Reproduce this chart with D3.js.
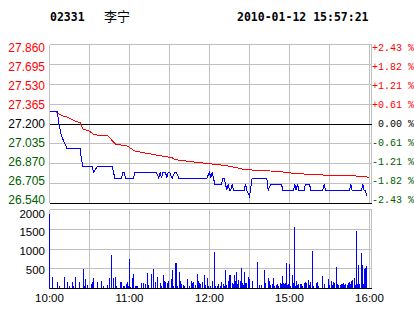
<!DOCTYPE html>
<html>
<head>
<meta charset="utf-8">
<script src="https://cdn.jsdelivr.net/npm/d3@7"></script>
<style>
  body { margin: 0; background: #fff; }
  svg { display: block; }
</style>
</head>
<body>
<svg id="chart"></svg>
<script>
// 02331 intraday, minutes counted from 10:00 (lunch break 12:30-14:30 removed)
var stockCode = "02331", stockName = "李宁", stamp = "2010-01-12 15:57:21"
var prevClose = 27.200
var priceTicks = [27.860, 27.695, 27.530, 27.365, 27.200, 27.035, 26.870, 26.705, 26.540]
var pctLabels = ["+2.43 %", "+1.82 %", "+1.21 %", "+0.61 %", "0.00 %", "-0.61 %", "-1.21 %", "-1.82 %", "-2.43 %"]
var volTicks = [2000, 1500, 1000, 500]
var timeLabels = ["10:00", "11:00", "12:00", "15:00", "16:00"]
var timeLabelMin = [0, 60, 120, 180, 240]
var gridMin = [0, 30, 60, 90, 120, 150, 180, 210, 240]

var price = [[0,27.30],[6,27.30],[7,27.20],[8,27.15],[9,27.10],[11,27.05],[13,27.00],[23,27.00],[24,26.90],[25,26.85],
  [32,26.85],[33,26.80],[36,26.85],[47,26.85],[48,26.80],[49,26.75],[54,26.75],[55,26.80],[56,26.80],[57,26.75],
  [63,26.75],[64,26.80],[80,26.80],[82,26.75],[83,26.80],[84,26.75],[85,26.80],[87,26.80],[88,26.75],[89,26.80],
  [90,26.80],[92,26.75],[94,26.80],[95,26.80],[97,26.75],[118,26.75],[120,26.80],[121,26.75],[122,26.80],[124,26.70],
  [129,26.70],[130,26.75],[131,26.75],[132,26.70],[133,26.65],[134,26.70],[135,26.65],[136,26.65],[137,26.70],[138,26.65],
  [146,26.65],[147,26.70],[148,26.65],[150,26.60],[152,26.75],[163,26.75],[164,26.65],[166,26.70],[174,26.70],[175,26.65],
  [183,26.65],[184,26.70],[185,26.65],[186,26.70],[187,26.65],[191,26.65],[192,26.70],[195,26.70],[196,26.65],[205,26.65],
  [206,26.70],[207,26.65],[225,26.65],[226,26.70],[227,26.65],[234,26.65],[235,26.70],[236,26.65],[237,26.65],[238,26.60]]

var avgPrice = [[0,27.30],[5,27.30],[9,27.27],[13,27.26],[18,27.23],[23,27.21],[24,27.18],[25,27.16],[30,27.14],[33,27.115],
  [37,27.105],[44,27.10],[48,27.05],[50,27.03],[58,27.02],[62,26.99],[64,26.975],[74,26.955],[84,26.935],[92,26.92],
  [94,26.905],[104,26.89],[112,26.88],[120,26.87],[124,26.866],[132,26.855],[139,26.84],[145,26.825],[154,26.816],
  [169,26.808],[179,26.797],[184,26.789],[197,26.781],[214,26.772],[229,26.769],[237,26.761],[240,26.758]]

var volume = [[0,2000],[2.25,300],[6,170],[7.5,60],[11.25,300],[13.5,170],[15,60],[17.25,170],[18,60],[19.5,300],
  [22.5,170],[25.5,515],[26.25,60],[27,250],[28.5,90],[31.5,115],[32.25,170],[33,275],[36,170],[39,195],[40.5,60],
  [43.5,90],[45,275],[46.5,890],[48,275],[49.5,300],[50.25,60],[53,170],[54,170],[55.5,60],[56.25,60],[57.75,115],
  [58.5,170],[59.25,60],[60,780],[60.75,35],[62.25,275],[63,380],[64.5,60],[65.25,60],[66,60],[69,140],[70.5,140],
  [72,115],[73.5,410],[74.25,90],[76.5,380],[78,515],[79.5,170],[81.25,300],[83.5,140],[84.25,60],[85.75,355],
  [86.5,195],[87.25,170],[88.75,140],[89.5,195],[91.75,250],[92.5,490],[93.25,60],[94.75,675],[95.5,675],[96.25,60],
  [97.75,435],[98.5,195],[99.25,115],[100.75,90],[101.5,60],[103.75,250],[105.25,60],[106.75,195],[107.5,140],
  [108.25,170],[109.75,90],[111.25,380],[112,195],[112.75,140],[113.5,115],[115,170],[116.5,355],[117.25,90],
  [118.75,275],[119.5,60],[121,60],[122.5,195],[124,970],[124.75,60],[126.25,60],[127,115],[128.5,60],[129.25,170],
  [130.75,115],[131.5,60],[132.25,490],[133,90],[134.5,195],[135.25,355],[136,355],[137.5,140],[138.25,115],[139,355],
  [139.75,195],[140.5,435],[141.25,115],[142,220],[143.5,195],[144.25,540],[145,140],[145.75,90],[146.5,435],
  [147.25,140],[148,140],[149.5,300],[150.25,250],[152.5,195],[156.25,700],[157.75,90],[159.25,90],[161.5,490],
  [162.25,140],[164.5,275],[165.25,195],[166,90],[167.5,115],[168.25,275],[169,60],[170.5,90],[171.25,115],[172,60],
  [173.5,140],[174.25,115],[175,330],[175.75,140],[176.5,115],[177.25,140],[178,675],[178.75,90],[179.5,115],
  [180.25,650],[181,60],[182.5,355],[183.25,140],[184,1635],[184.75,60],[185.5,195],[186.25,90],[187,115],[188.5,115],
  [189.25,115],[190,60],[191.5,140],[192.25,170],[193,140],[194.5,220],[195.25,90],[196,170],[197.5,995],[198.25,60],
  [200.5,140],[201.25,170],[202,60],[205,330],[206.5,115],[209.5,250],[210.25,90],[211.75,195],[212.5,90],[213.25,170],
  [214,140],[215.5,570],[216.25,115],[217,90],[218.5,90],[219.25,115],[220,115],[220.75,140],[221.5,90],[222.25,115],
  [223.75,90],[224.5,140],[225.25,170],[226,115],[226.75,195],[227.5,220],[229,275],[229.75,90],[230.5,1530],
  [231.25,115],[232,620],[232.75,115],[234.25,940],[235,620],[235.75,115],[236.5,515],[237.25,540],[238,595]]

var width = 414, height = 314
var left = 49.5, right = 371.5
var upColor = "#ff0000", downColor = "#006000", gridColor = "#c0c0c0"

var svg = d3.select("#chart").attr("width", width).attr("height", height)

var x = d3.scaleLinear().domain([0, 240]).range([49.5, 369.5])
var y = d3.scaleLinear().domain([26.54, 27.86]).range([203.5, 44.5])
var yLabel = d3.scaleLinear().domain([26.54, 27.86]).range([199.5, 47.5])  // labels sit a bit inside
var yVol = d3.scaleLinear().domain([0, 2000]).range([288.5, 213.5])
var volTop = 209.5, volBottom = 288.5

var monoFont = "'DejaVu Sans Mono', monospace"
var sansFont = "'Liberation Sans', Arial, sans-serif"
var pctFont = "'Liberation Mono', monospace"

// header
svg.append("text").attr("x", 50).attr("y", 21).text(stockCode)
    .style("font", "bold 11.5px " + monoFont)
svg.append("text").attr("x", 104).attr("y", 21).text(stockName)
    .style("font", "13px 'Noto Sans CJK SC'")
svg.append("text").attr("x", 237).attr("y", 21).text(stamp)
    .style("font", "bold 11.5px " + monoFont)

// price grid
svg.append("g").selectAll("line").data(priceTicks).enter().append("line")
    .attr("x1", left).attr("x2", right)
    .attr("y1", d => y(d)).attr("y2", d => y(d))
    .attr("stroke", gridColor)
    .attr("shape-rendering", "crispEdges")
svg.append("g").selectAll("line").data(gridMin).enter().append("line")
    .attr("x1", d => x(d)).attr("x2", d => x(d))
    .attr("y1", y(27.86)).attr("y2", y(26.54) - 1)
    .attr("stroke", gridColor).attr("shape-rendering", "crispEdges")
svg.append("line").attr("x1", right).attr("x2", right)
    .attr("y1", y(27.86)).attr("y2", y(26.54))
    .attr("stroke", gridColor).attr("shape-rendering", "crispEdges")

// the two black lines on top of the verticals
svg.append("g").selectAll("line").data([prevClose, 26.540]).enter().append("line")
    .attr("x1", left).attr("x2", right)
    .attr("y1", d => y(d)).attr("y2", d => y(d))
    .attr("stroke", "#000").attr("shape-rendering", "crispEdges")

// price labels
function labelColor(d) { return d > prevClose ? upColor : (d < prevClose ? downColor : "#000") }
svg.append("g").selectAll("text").data(priceTicks).enter().append("text")
    .attr("x", 45).attr("y", d => yLabel(d)).attr("dy", "0.36em")
    .attr("text-anchor", "end")
    .style("font", "12px " + sansFont)
    .attr("fill", labelColor)
    .text(d => d.toFixed(3))
svg.append("g").selectAll("text").data(priceTicks).enter().append("text")
    .attr("x", 414).attr("y", d => yLabel(d)).attr("dy", "0.36em")
    .attr("text-anchor", "end")
    .style("font", "10px " + pctFont)
    .attr("fill", labelColor)
    .text((d, i) => pctLabels[i])

// volume grid
var volGrid = d3.range(4).map(i => volTop + i * (volBottom - volTop) / 4)
svg.append("g").selectAll("line").data(volGrid).enter().append("line")
    .attr("x1", left).attr("x2", right)
    .attr("y1", d => d).attr("y2", d => d)
    .attr("stroke", gridColor).attr("shape-rendering", "crispEdges")
svg.append("g").selectAll("line").data(gridMin).enter().append("line")
    .attr("x1", d => x(d)).attr("x2", d => x(d))
    .attr("y1", volTop).attr("y2", volBottom)
    .attr("stroke", gridColor).attr("shape-rendering", "crispEdges")
svg.append("line").attr("x1", right).attr("x2", right)
    .attr("y1", volTop).attr("y2", volBottom)
    .attr("stroke", gridColor).attr("shape-rendering", "crispEdges")

// volume bars
svg.append("g").selectAll("rect").data(volume).enter().append("rect")
    .attr("x", d => Math.floor(x(d[0])))
    .attr("width", 1)
    .attr("y", d => yVol(d[1]))
    .attr("height", d => yVol(0) - yVol(d[1]))
    .attr("fill", "#0000ff")
    .attr("shape-rendering", "crispEdges")

svg.append("line").attr("x1", left).attr("x2", right)
    .attr("y1", volBottom).attr("y2", volBottom)
    .attr("stroke", "#000").attr("shape-rendering", "crispEdges")

svg.append("g").selectAll("text").data(volTicks).enter().append("text")
    .attr("x", 45).attr("y", d => yVol(d)).attr("dy", "0.36em")
    .attr("text-anchor", "end")
    .style("font", "11.5px " + sansFont)
    .text(d => d)

// time labels
svg.append("g").selectAll("text").data(timeLabels).enter().append("text")
    .attr("x", (d, i) => x(timeLabelMin[i])).attr("y", 302)
    .attr("text-anchor", "middle")
    .style("font", "11.5px " + sansFont)
    .text(d => d)

// lines
var line = d3.line().x(d => x(d[0])).y(d => y(d[1]))
svg.append("path").datum(avgPrice)
    .attr("fill", "none").attr("stroke", upColor).attr("stroke-width", 1)
    .attr("shape-rendering", "crispEdges")
    .attr("d", line)
svg.append("path").datum(price)
    .attr("fill", "none").attr("stroke", "#0000ff").attr("stroke-width", 1)
    .attr("shape-rendering", "crispEdges")
    .attr("d", line)
</script>
</body>
</html>
